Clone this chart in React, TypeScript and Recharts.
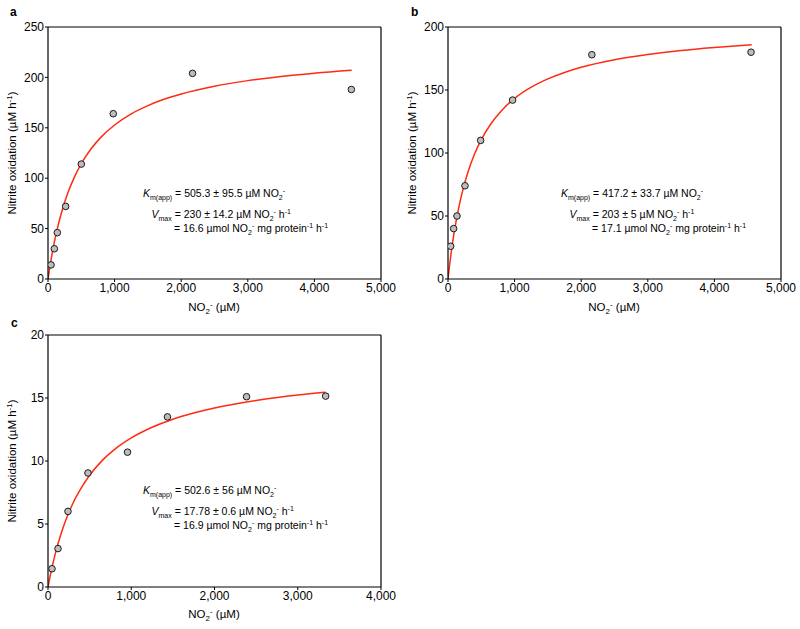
import React from 'react';
import {ComposedChart, Line, Scatter, XAxis, YAxis, ReferenceLine} from 'recharts';

// panel a
const subA = [45, 95, 140, 265, 500, 980, 2170, 4555];
const rateA = [14, 30, 46, 72, 114, 164, 204, 188];
const fitXA = [0, 25, 50, 100, 150, 200, 300, 400, 500, 650, 800, 1000, 1250, 1500, 1750, 2000, 2500, 3000, 3500, 4000, 4560];
const fitYA = [0, 10.8, 20.7, 38, 52.7, 65.3, 85.7, 101.5, 114.4, 129.4, 141, 152.8, 163.8, 172, 178.5, 183.6, 191.3, 196.8, 201, 204.2, 207.1];

// panel b
const subB = [40, 85, 135, 255, 490, 970, 2160, 4550];
const rateB = [26, 40, 50, 74, 110, 142, 178, 180];
const fitXB = [0, 25, 50, 100, 150, 200, 300, 400, 500, 650, 800, 1000, 1250, 1500, 1750, 2000, 2500, 3000, 3500, 4000, 4560];
const fitYB = [0, 11.5, 21.8, 39.3, 53.7, 65.8, 84.9, 99.4, 110.6, 123.6, 133.4, 143.3, 152.2, 158.8, 163.9, 168, 174, 178.2, 181.4, 183.8, 186];

// panel c
const subC = [48, 120, 240, 480, 955, 1435, 2385, 3335];
const rateC = [1.45, 3.05, 6, 9.05, 10.7, 13.5, 15.1, 15.15];
const fitXC = [0, 25, 50, 100, 150, 200, 300, 400, 500, 650, 800, 1000, 1250, 1500, 1750, 2000, 2500, 3000, 3335];
const fitYC = [0, 0.84, 1.61, 2.95, 4.09, 5.06, 6.65, 7.86, 8.87, 10.03, 10.92, 11.83, 12.68, 13.32, 13.81, 14.21, 14.8, 15.23, 15.45];

const xTicksAB = [0, 1000, 2000, 3000, 4000, 5000];
const xTicksC = [0, 1000, 2000, 3000, 4000];
const yTicksA = [0, 50, 100, 150, 200, 250];
const yTicksB = [0, 50, 100, 150, 200];
const yTicksC = [0, 5, 10, 15, 20];

const FONT = '"Liberation Sans", Arial, Helvetica, sans-serif';

const zip = (xs: number[], ys: number[]) => xs.map((x, i) => ({x, y: ys[i]}));

const Dot = (props: any) => (
    <circle cx={props.cx} cy={props.cy} r={3.3} fill="#bcbcbc" stroke="#1a1a1a" strokeWidth={1}/>
);

const Panel = ({left, top, height, mTop, mBottom, xTicks, yTicks, points, fit}: {
    left: number, top: number, height: number, mTop: number, mBottom: number,
    xTicks: number[], yTicks: number[], points: {x: number, y: number}[], fit: {x: number, y: number}[]
}): JSX.Element => {
    const xMax = xTicks[xTicks.length - 1];
    const yMax = yTicks[yTicks.length - 1];
    const tickStyle = {fill: '#000', fontSize: 12, fontFamily: FONT};
    return (
        <div style={{position: 'absolute', left, top}}>
            <ComposedChart width={400} height={height} margin={{top: mTop, right: 19, bottom: mBottom, left: 8}}>
                <XAxis dataKey="x" type="number" domain={[0, xMax]} ticks={xTicks} height={30}
                       tickFormatter={(v: number) => v.toLocaleString('en-US')}
                       tick={tickStyle} tickSize={3} tickMargin={1}
                       stroke="#000" axisLine={{stroke: '#000', strokeWidth: 1.2}} tickLine={{stroke: '#000'}}
                       allowDataOverflow/>
                <YAxis type="number" domain={[0, yMax]} ticks={yTicks} width={40}
                       tick={tickStyle} tickSize={3} tickMargin={1}
                       axisLine={{stroke: '#000', strokeWidth: 1.2}} tickLine={{stroke: '#000'}}
                       allowDataOverflow/>
                <ReferenceLine y={yMax} stroke="#000" strokeWidth={1.2}/>
                <ReferenceLine x={xMax} stroke="#000" strokeWidth={1.2}/>
                <Line data={fit} dataKey="y" type="monotone" stroke="#ff2a12" strokeWidth={1.5}
                      dot={false} activeDot={false} isAnimationActive={false}/>
                <Scatter data={points} dataKey="y" shape={Dot} isAnimationActive={false}/>
            </ComposedChart>
        </div>
    );
}

// subscript "2" then superscript "-", back to the baseline afterwards
const NO2 = () => (
    <>
        <tspan fontSize={7} dy={2.5}>2</tspan>
        <tspan fontSize={7} dy={-6.5}>-</tspan>
    </>
);

const Annot = ({x, y, km, vmax, spec}: {x: number, y: number, km: string, vmax: string, spec: string}) => (
    <g fontFamily={FONT} fontSize={10.5} fill="#000" style={{whiteSpace: 'pre'}}>
        <text x={x} y={y}>
            <tspan fontStyle="italic">K</tspan>
            <tspan fontSize={7} dy={2.5}>m(app)</tspan>
            <tspan dy={-2.5}>{` = ${km} µM NO`}</tspan>
            <NO2/>
        </text>
        <text x={x + 8.5} y={y + 21}>
            <tspan fontStyle="italic">V</tspan>
            <tspan fontSize={7} dy={2.5}>max</tspan>
            <tspan dy={-2.5}>{` = ${vmax} µM NO`}</tspan>
            <NO2/>
            <tspan dy={4}>{' h'}</tspan>
            <tspan fontSize={7} dy={-4}>-1</tspan>
        </text>
        <text x={x + 31} y={y + 35}>
            <tspan>{`= ${spec} µmol NO`}</tspan>
            <NO2/>
            <tspan dy={4}>{' mg protein'}</tspan>
            <tspan fontSize={7} dy={-4}>-1</tspan>
            <tspan dy={4}>{' h'}</tspan>
            <tspan fontSize={7} dy={-4}>-1</tspan>
        </text>
    </g>
);

const YTitle = ({x, y}: {x: number, y: number}) => (
    <text x={x} y={y} transform={`rotate(-90 ${x} ${y})`} textAnchor="middle"
          fontFamily={FONT} fontSize={11.5} fill="#000" style={{whiteSpace: 'pre'}}>
        <tspan>Nitrite oxidation (µM h</tspan>
        <tspan fontSize={8} dy={-4}>-1</tspan>
        <tspan dy={4}>)</tspan>
    </text>
);

const XTitle = ({x, y}: {x: number, y: number}) => (
    <text x={x} y={y} textAnchor="middle" fontFamily={FONT} fontSize={11.5} fill="#000" style={{whiteSpace: 'pre'}}>
        <tspan>NO</tspan>
        <tspan fontSize={8} dy={3}>2</tspan>
        <tspan fontSize={8} dy={-7.5}>-</tspan>
        <tspan dy={4.5}>{' (µM)'}</tspan>
    </text>
);

const Letter = ({x, y, t}: {x: number, y: number, t: string}) => (
    <text x={x} y={y} fontFamily={FONT} fontSize={12} fontWeight="bold" fill="#000">{t}</text>
);

export default function App() {
    return (
        <div style={{position: 'absolute', left: 0, top: 0, width: 800, height: 629, background: '#fff'}}>
            <Panel left={0} top={0} height={310} mTop={27} mBottom={1} xTicks={xTicksAB} yTicks={yTicksA}
                   points={zip(subA, rateA)} fit={zip(fitXA, fitYA)}/>
            <Panel left={400} top={0} height={310} mTop={27} mBottom={1} xTicks={xTicksAB} yTicks={yTicksB}
                   points={zip(subB, rateB)} fit={zip(fitXB, fitYB)}/>
            <Panel left={0} top={310} height={319} mTop={25} mBottom={12} xTicks={xTicksC} yTicks={yTicksC}
                   points={zip(subC, rateC)} fit={zip(fitXC, fitYC)}/>
            <svg width={800} height={629} style={{position: 'absolute', left: 0, top: 0, pointerEvents: 'none'}}>
                <Letter x={10} y={16} t="a"/>
                <Letter x={411} y={16} t="b"/>
                <Letter x={11} y={327} t="c"/>
                <YTitle x={16} y={153}/>
                <YTitle x={416} y={153}/>
                <YTitle x={16} y={461}/>
                <XTitle x={214} y={311}/>
                <XTitle x={614} y={311}/>
                <XTitle x={214} y={618}/>
                <Annot x={143} y={197} km="505.3 ± 95.5" vmax="230 ± 14.2" spec="16.6"/>
                <Annot x={561} y={197} km="417.2 ± 33.7" vmax="203 ± 5" spec="17.1"/>
                <Annot x={143} y={494} km="502.6 ± 56" vmax="17.78 ± 0.6" spec="16.9"/>
            </svg>
        </div>
    );
}
